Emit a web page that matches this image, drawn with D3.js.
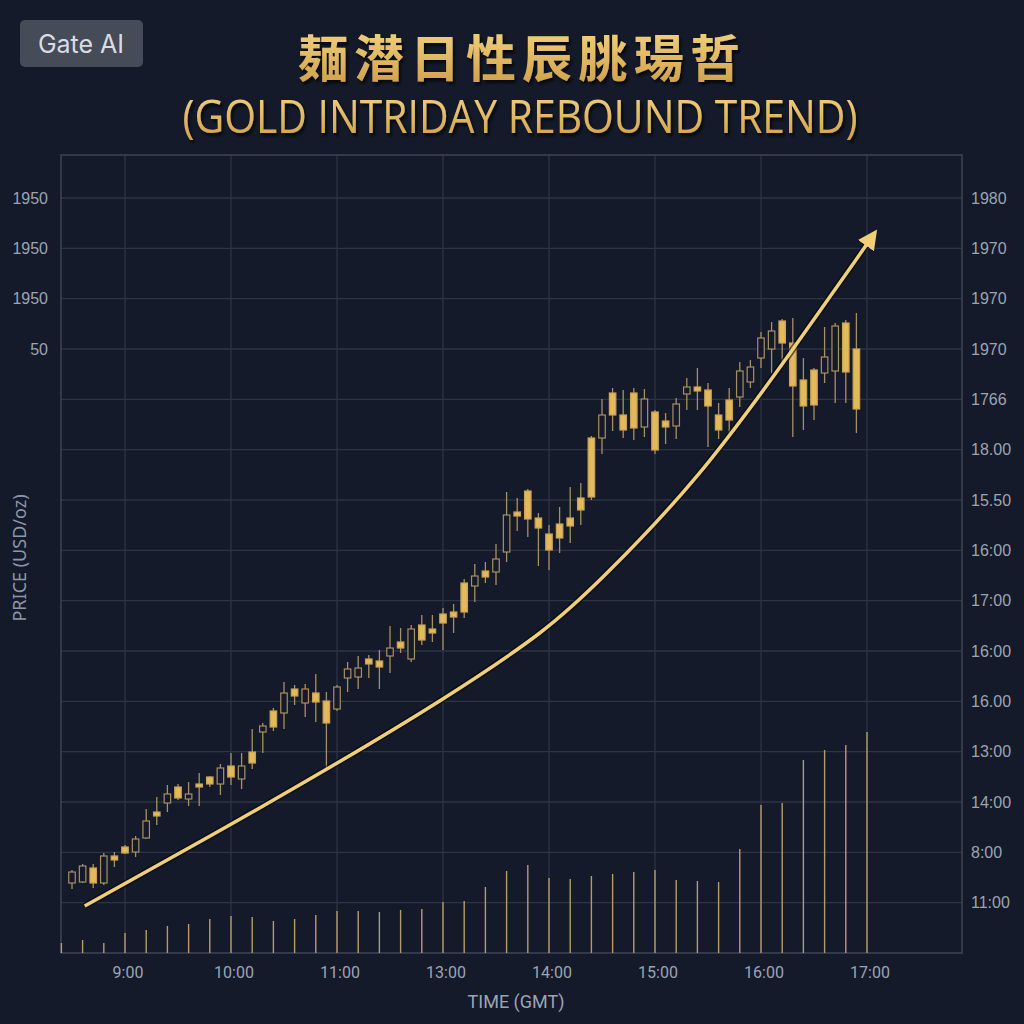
<!DOCTYPE html>
<html>
<head>
<meta charset="utf-8">
<script src="https://cdn.jsdelivr.net/npm/d3@7"></script>
<style>
  body { margin: 0; background: #141a29; }
  svg { display: block; }
</style>
</head>
<body>
<svg id="chart" width="1024" height="1024"></svg>
<script>
// tick labels as printed on the chart
const timeTicks = ['9:00', '10:00', '11:00', '13:00', '14:00', '15:00', '16:00', '17:00']
const leftTicks = ['1950', '1950', '1950', '50']
const rightTicks = ['1980', '1970', '1970', '1970', '1766', '18.00', '15.50', '16:00',
  '17:00', '16:00', '16.00', '13:00', '14:00', '8:00', '11:00']

// candles, one every 6 minutes (0.1 h) starting half an hour before 9:00
const candleOpen = [1911.7, 1911.8, 1913.2, 1911.7, 1914.4, 1915.3, 1914.8, 1916.2, 1918.8, 1919.7,
  1921.3, 1920.1, 1921.6, 1922.3, 1921.6, 1923.4, 1922.1, 1924.8, 1926.8, 1928.9,
  1928.7, 1931.1, 1929.7, 1930.7, 1929.9, 1929.1, 1932.2, 1932.3, 1934.1, 1933.9,
  1934.4, 1935.8, 1934.1, 1937.5, 1937.1, 1938.6, 1938.8, 1941.7, 1941.4, 1942.9,
  1942.8, 1944.8, 1948.8, 1950.9, 1948.2, 1946.6, 1947.6, 1948.2, 1950.2, 1956.2,
  1956.2, 1960.7, 1958.5, 1960.7, 1957.3, 1958.8, 1957.9, 1957.4, 1960.6, 1961.3,
  1961.0, 1958.5, 1960.0, 1960.3, 1961.8, 1964.2, 1965.1, 1967.9, 1965.7, 1962.0,
  1963.0, 1962.7, 1962.9, 1967.7, 1965.1]
const candleHigh = [1913.0, 1913.6, 1913.6, 1914.7, 1914.8, 1915.5, 1916.4, 1919.1, 1920.3, 1921.5,
  1921.6, 1921.8, 1922.7, 1922.4, 1923.6, 1924.7, 1924.7, 1927.1, 1927.7, 1929.2,
  1931.8, 1931.5, 1931.6, 1932.6, 1930.8, 1931.5, 1933.8, 1934.4, 1934.5, 1935.0,
  1937.4, 1937.2, 1937.5, 1938.5, 1938.5, 1939.2, 1939.6, 1942.1, 1943.6, 1943.8,
  1945.6, 1950.8, 1950.2, 1951.1, 1948.7, 1947.5, 1949.3, 1951.3, 1951.7, 1956.4,
  1960.1, 1961.2, 1961.0, 1961.2, 1961.1, 1959.0, 1958.7, 1960.2, 1962.2, 1963.2,
  1961.7, 1959.7, 1961.2, 1963.8, 1964.0, 1966.8, 1967.8, 1968.1, 1968.2, 1964.2,
  1963.2, 1967.3, 1967.7, 1968.0, 1968.7]
const candleLow = [1911.1, 1911.7, 1911.2, 1911.5, 1913.3, 1914.6, 1914.3, 1916.1, 1917.5, 1918.8,
  1920.0, 1919.4, 1919.4, 1921.3, 1920.5, 1921.5, 1921.1, 1923.1, 1924.7, 1926.9,
  1927.1, 1929.5, 1928.3, 1927.8, 1923.2, 1928.9, 1930.8, 1931.1, 1932.2, 1931.1,
  1932.7, 1934.7, 1933.8, 1935.5, 1935.8, 1935.0, 1936.7, 1938.2, 1939.8, 1941.7,
  1941.5, 1943.8, 1946.9, 1946.3, 1943.4, 1943.0, 1944.7, 1945.7, 1947.5, 1950.0,
  1954.6, 1956.9, 1956.2, 1956.0, 1956.3, 1954.6, 1955.6, 1956.1, 1959.0, 1959.0,
  1955.3, 1956.1, 1956.3, 1959.3, 1961.2, 1963.2, 1962.7, 1963.3, 1956.3, 1957.0,
  1958.0, 1961.7, 1959.7, 1959.7, 1956.7]
const candleClose = [1912.8, 1913.4, 1911.7, 1914.4, 1914.0, 1914.7, 1916.1, 1917.9, 1918.4, 1920.6,
  1920.2, 1920.6, 1921.3, 1921.6, 1923.2, 1922.3, 1923.4, 1923.7, 1927.4, 1927.3,
  1930.7, 1930.4, 1931.1, 1929.8, 1927.7, 1931.3, 1933.1, 1933.2, 1933.6, 1933.3,
  1935.2, 1935.2, 1937.1, 1936.0, 1936.7, 1937.7, 1938.3, 1938.8, 1942.4, 1942.3,
  1944.1, 1948.5, 1948.4, 1948.1, 1947.2, 1945.0, 1946.2, 1947.4, 1949.0, 1950.3,
  1958.5, 1958.5, 1957.0, 1957.2, 1960.1, 1955.0, 1957.3, 1959.6, 1961.3, 1960.9,
  1959.4, 1957.0, 1958.0, 1962.9, 1963.3, 1966.2, 1966.9, 1965.7, 1961.4, 1959.4,
  1959.5, 1964.3, 1967.4, 1962.8, 1959.1]

// volume, one bar every 12 minutes, last one at 17:00
const volumes = [100, 130, 100, 200, 230, 270, 290, 340, 370, 360,
  320, 340, 380, 420, 420, 410, 430, 440, 510, 520,
  660, 820, 880, 750, 740, 770, 790, 810, 830, 730,
  720, 710, 1040, 1480, 1500, 1930, 2030, 2080, 2210]

// rebound trend arrow [hour from 9:00, price]
const trendPoints = [[-0.38, 1909.4], [0.71, 1915.8], [1.93, 1923.2], [3.0, 1930.0],
  [3.99, 1937.0], [4.48, 1941.9], [5.41, 1952.0], [6.3, 1965.0], [7.0, 1975.6]]

const plotLeft = 61, plotRight = 962, plotTop = 155, plotBottom = 953

const svg = d3.select('#chart')

let x = d3.scaleLinear().domain([0, 7]).range([125, 867])
let y = d3.scaleLinear().domain([1904.7, 1980.2]).range([953, 198])
let row = d3.scaleLinear().domain([0, 15]).range([198, 953])
let vol = d3.scaleLinear().domain([0, 2500]).range([953, 703])

let defs = svg.append('defs')
let grad = defs.append('linearGradient')
  .attr('id', 'gold').attr('x1', 0).attr('y1', 0).attr('x2', 0).attr('y2', 1)
grad.append('stop').attr('offset', '0%').attr('stop-color', '#f8da88')
grad.append('stop').attr('offset', '100%').attr('stop-color', '#cc9b44')
defs.append('filter').attr('id', 'shadow')
  .append('feDropShadow').attr('dx', 2).attr('dy', 3).attr('stdDeviation', 1.5)
  .attr('flood-color', '#000').attr('flood-opacity', 0.7)
defs.append('marker')
  .attr('id', 'head').attr('viewBox', '0 0 10 10')
  .attr('refX', 1).attr('refY', 5)
  .attr('markerWidth', 5.6).attr('markerHeight', 5.6)
  .attr('markerUnits', 'strokeWidth')
  .attr('orient', 'auto')
  .append('path').attr('d', 'M0,0 L10,5 L0,10 Z').attr('fill', '#f1cf76')

// badge
svg.append('rect')
  .attr('x', 20).attr('y', 20).attr('width', 123).attr('height', 47).attr('rx', 5)
  .attr('fill', '#464c57')
svg.append('text')
  .attr('x', 81).attr('y', 53).attr('text-anchor', 'middle')
  .attr('font-family', 'Inter, sans-serif').attr('font-size', 25)
  .attr('fill', '#d9dde3').text('Gate AI')

// titles
svg.append('text')
  .attr('x', 522).attr('y', 77).attr('text-anchor', 'middle')
  .attr('font-family', '"Noto Sans CJK SC", sans-serif').attr('font-weight', 700)
  .attr('font-size', 50).attr('letter-spacing', 6)
  .attr('fill', 'url(#gold)').attr('filter', 'url(#shadow)')
  .text('麺潜日性辰朓瑒哲')
svg.append('text')
  .attr('x', 520).attr('y', 133).attr('text-anchor', 'middle')
  .attr('font-family', '"Open Sans", sans-serif').attr('font-size', 46)
  .attr('textLength', 675).attr('lengthAdjust', 'spacingAndGlyphs')
  .attr('fill', 'url(#gold)').attr('filter', 'url(#shadow)')
  .text('(GOLD INTRIDAY REBOUND TREND)')

// grid
let grid = svg.append('g').attr('stroke', '#2c3447').attr('stroke-width', 1.3)
grid.selectAll('line.h')
  .data(d3.range(15))
  .join('line')
    .attr('x1', plotLeft).attr('x2', plotRight)
    .attr('y1', d => row(d)).attr('y2', d => row(d))
grid.selectAll('line.v')
  .data(timeTicks)
  .join('line')
    .attr('class', 'v')
    .attr('x1', (d, i) => x(i)).attr('x2', (d, i) => x(i))
    .attr('y1', plotTop).attr('y2', plotBottom)
svg.append('rect')
  .attr('x', plotLeft).attr('y', plotTop)
  .attr('width', plotRight - plotLeft).attr('height', plotBottom - plotTop)
  .attr('fill', 'none').attr('stroke', '#3b4457').attr('stroke-width', 1.5)

// axis labels
let axisText = svg.append('g')
  .attr('font-family', '"Liberation Sans", Arial, sans-serif').attr('font-size', 16).attr('fill', '#9ca4b4')
axisText.selectAll('text.l')
  .data(leftTicks)
  .join('text')
    .attr('class', 'l')
    .attr('x', 48).attr('y', (d, i) => row(i)).attr('dy', '0.35em')
    .attr('text-anchor', 'end').text(d => d)
axisText.selectAll('text.r')
  .data(rightTicks)
  .join('text')
    .attr('class', 'r')
    .attr('x', 971).attr('y', (d, i) => row(i)).attr('dy', '0.35em')
    .text(d => d)
axisText.selectAll('text.t')
  .data(timeTicks)
  .join('text')
    .attr('class', 't')
    .attr('font-family', 'Roboto, sans-serif').attr('font-size', 16)
    .attr('x', (d, i) => x(i) + 3).attr('y', 978)
    .attr('text-anchor', 'middle').text(d => d)
svg.append('text')
  .attr('x', 516).attr('y', 1008).attr('text-anchor', 'middle')
  .attr('font-family', 'Roboto, sans-serif').attr('font-size', 18).attr('fill', '#9ca4b4')
  .text('TIME (GMT)')
svg.append('text')
  .attr('transform', 'translate(26,558) rotate(-90)').attr('text-anchor', 'middle')
  .attr('font-family', '"Noto Sans", sans-serif').attr('font-size', 18).attr('fill', '#8e97a8')
  .text('PRICE (USD/oz)')

// volume
svg.append('g')
  .attr('stroke', '#b89c68').attr('stroke-width', 1.4)
  .selectAll('line')
  .data(volumes)
  .join('line')
    .attr('x1', (d, i) => x(7 - 0.2 * (volumes.length - 1 - i)))
    .attr('x2', (d, i) => x(7 - 0.2 * (volumes.length - 1 - i)))
    .attr('y1', vol(0)).attr('y2', d => vol(d))

// candles
let candles = candleOpen.map((o, i) => ({
  t: -0.5 + 0.1 * i, open: o, high: candleHigh[i], low: candleLow[i], close: candleClose[i]
}))
let bodyW = 6.5
let cg = svg.append('g')
cg.selectAll('line')
  .data(candles)
  .join('line')
    .attr('x1', d => x(d.t)).attr('x2', d => x(d.t))
    .attr('y1', d => y(d.high)).attr('y2', d => y(d.low))
    .attr('stroke', '#a88f63').attr('stroke-width', 1.3)
cg.selectAll('rect')
  .data(candles)
  .join('rect')
    .attr('x', d => x(d.t) - bodyW / 2)
    .attr('y', d => y(Math.max(d.open, d.close)))
    .attr('width', bodyW)
    .attr('height', d => Math.max(2, Math.abs(y(d.open) - y(d.close))))
    .attr('fill', d => d.close > d.open ? '#141a29' : '#e3b95e')
    .attr('stroke', d => d.close > d.open ? '#a88f63' : '#c9a255')
    .attr('stroke-width', 1.2)

// trend arrow
let trendLine = d3.line()
  .x(d => x(d[0])).y(d => y(d[1]))
  .curve(d3.curveBasis)
svg.append('path')
  .attr('d', trendLine(trendPoints))
  .attr('fill', 'none').attr('stroke', '#05070c').attr('stroke-opacity', 0.6).attr('stroke-width', 6.5)
svg.append('path')
  .attr('d', trendLine(trendPoints))
  .attr('fill', 'none').attr('stroke', '#f1cf76').attr('stroke-width', 3.5)
  .attr('marker-end', 'url(#head)')
</script>
</body>
</html>
